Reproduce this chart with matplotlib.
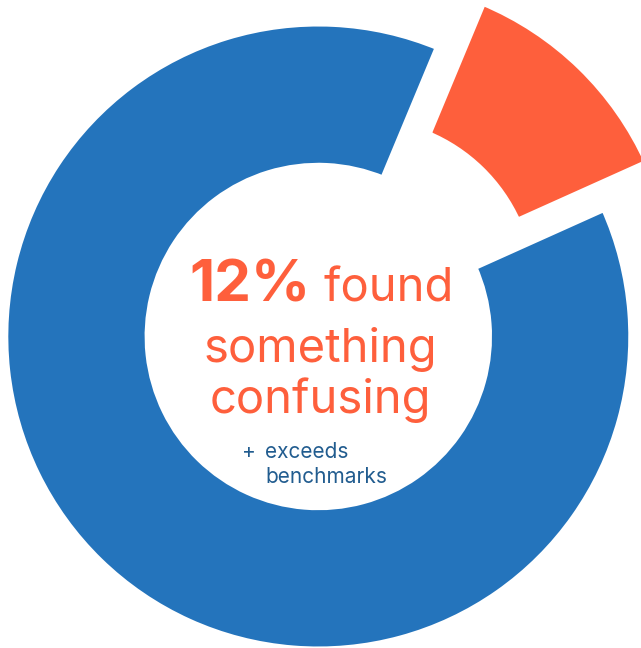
import matplotlib.pyplot as plt

# share of respondents
labels = ['found something confusing', 'did not']
shares = [12, 88]
colors = ['#FE5F3C', '#2474BC']
explode = [0.2, 0.0]

W, H = 641, 648
cx, cy, R = 318.3, 336.5, 313.8   # pixel centre / radius of the ring


def px(x, y):
    # pixel position -> data coords (radius 1 ring)
    return (x - cx) / R, (cy - y) / R


fig = plt.figure(figsize=(W / 100, H / 100), dpi=100)
ax = fig.add_axes([0, 0, 1, 1])

ax.pie(shares, colors=colors, explode=explode, startangle=45.8 - 0.5 * 43.2,
       counterclock=True, radius=1.0,
       wedgeprops=dict(width=0.4586, edgecolor='white', linewidth=5.5))

ax.set_xlim(-cx / R, (W - cx) / R)
ax.set_ylim(-(H - cy) / R, cy / R)
ax.set_aspect('auto')
ax.axis('off')

font = 'Inter'
orange = '#FE5F3C'
navy = '#215C8F'

ax.text(*px(189, 302), '12%', fontsize=42, fontweight='bold', color=orange,
        family=font, ha='left', va='baseline')
ax.text(*px(323, 302), 'found', fontsize=34, color=orange, family=font,
        ha='left', va='baseline')
ax.text(*px(320, 362), 'something', fontsize=34, color=orange, family=font,
        ha='center', va='baseline')
ax.text(*px(320, 413), 'confusing', fontsize=34, color=orange, family=font,
        ha='center', va='baseline')

ax.text(*px(242, 458), '+', fontsize=15, color=navy, family=font,
        ha='left', va='baseline')
ax.text(*px(265, 458), 'exceeds', fontsize=15, color=navy, family=font,
        ha='left', va='baseline')
ax.text(*px(265, 483), 'benchmarks', fontsize=15, color=navy, family=font,
        ha='left', va='baseline')

fig.savefig('out.png', dpi=100)
